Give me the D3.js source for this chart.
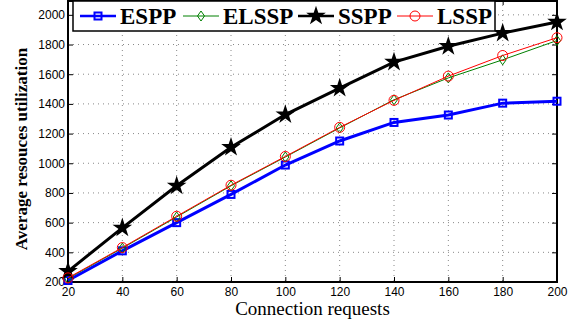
<!DOCTYPE html>
<meta charset="utf-8">
<head>
<style>
body { margin: 0; background: #fff; }
.tick text { font-family: "Liberation Sans", Arial, sans-serif; font-size: 12px; fill: #000; }
.grid line { stroke: #888; stroke-dasharray: 1,4; stroke-width: 1px; }
</style>
</head>
<body>
<script src="https://d3js.org/d3.v7.min.js"></script>
<div id="chart"></div>
<script>
  var requests = [20, 40, 60, 80, 100, 120, 140, 160, 180, 200];
  var espp  = [210, 410, 600, 790, 988, 1150, 1275, 1325, 1405, 1418];
  var elssp = [224, 428, 638, 848, 1042, 1238, 1428, 1575, 1697, 1827];
  var sspp  = [272, 565, 848, 1108, 1328, 1506, 1682, 1788, 1877, 1952];
  var lssp  = [228, 432, 643, 852, 1046, 1242, 1424, 1587, 1726, 1846];
  var xTicks = [20, 40, 60, 80, 100, 120, 140, 160, 180, 200];
  var yTicks = [200, 400, 600, 800, 1000, 1200, 1400, 1600, 1800, 2000];

  var width = 580, height = 322;
  var mLeft = 68, mRight = 557, mTop = 0, mBottom = 282;

  var x = d3.scaleLinear().domain([20, 200]).range([mLeft, mRight]);
  var y = d3.scaleLinear().domain([200, 2100]).range([mBottom, mTop]);

  const svg = d3.select('#chart').append('svg')
      .attr('width', width).attr('height', height);

  // grid
  svg.append('g').attr('class', 'grid')
    .selectAll('line').data(xTicks.slice(1, -1)).enter().append('line')
      .attr('x1', d => x(d)).attr('x2', d => x(d))
      .attr('y1', mTop).attr('y2', mBottom);
  svg.append('g').attr('class', 'grid')
    .selectAll('line').data(yTicks.slice(1)).enter().append('line')
      .attr('x1', mLeft).attr('x2', mRight)
      .attr('y1', d => y(d)).attr('y2', d => y(d));

  // axes
  svg.append('g').attr('transform', 'translate(0,' + mBottom + ')')
    .call(d3.axisBottom(x).tickValues(xTicks).tickSize(-5).tickPadding(5).tickFormat(d3.format('d')));
  svg.append('g').attr('transform', 'translate(' + mLeft + ',0)')
    .call(d3.axisLeft(y).tickValues(yTicks).tickSize(-5).tickPadding(3).tickFormat(d3.format('d')));
  svg.append('g').attr('transform', 'translate(0,' + mTop + ')')
    .call(d3.axisTop(x).tickValues(xTicks).tickSize(-5).tickFormat(''));
  svg.append('g').attr('transform', 'translate(' + mRight + ',0)')
    .call(d3.axisRight(y).tickValues(yTicks).tickSize(-5).tickFormat(''));
  svg.selectAll('.domain').remove();
  svg.selectAll('.tick line').attr('stroke', '#000');

  svg.append('rect')
    .attr('x', mLeft).attr('y', mTop + 1)
    .attr('width', mRight - mLeft).attr('height', mBottom - mTop - 1)
    .attr('fill', 'none').attr('stroke', '#000').attr('stroke-width', 2);

  // series
  var series = [
    { name: 'ESPP', values: espp, color: '#0000ff', width: 3, marker: 'square' },
    { name: 'ELSSP', values: elssp, color: '#008000', width: 1, marker: 'diamond' },
    { name: 'SSPP', values: sspp, color: '#000000', width: 3, marker: 'star' },
    { name: 'LSSP', values: lssp, color: '#ff0000', width: 1, marker: 'circle' }
  ];

  var line = d3.line().x((d, i) => x(requests[i])).y(d => y(d));

  function drawMarker(g, s, cx, cy) {
    if (s.marker === 'square') {
      g.append('rect').attr('x', cx - 3.5).attr('y', cy - 3.5).attr('width', 7).attr('height', 7)
        .attr('fill', 'none').attr('stroke', s.color).attr('stroke-width', 2);
    } else if (s.marker === 'diamond') {
      g.append('path').attr('d', 'M0,-5L3.5,0L0,5L-3.5,0Z').attr('transform', 'translate(' + cx + ',' + cy + ')')
        .attr('fill', 'none').attr('stroke', s.color).attr('stroke-width', 1);
    } else if (s.marker === 'star') {
      g.append('path').attr('d', d3.symbol(d3.symbolStar, 120)()).attr('transform', 'translate(' + cx + ',' + cy + ')')
        .attr('fill', s.color);
    } else {
      g.append('circle').attr('cx', cx).attr('cy', cy).attr('r', 5)
        .attr('fill', 'none').attr('stroke', s.color).attr('stroke-width', 1);
    }
  }

  series.forEach(function (s) {
    var g = svg.append('g');
    g.append('path').datum(s.values).attr('d', line)
      .attr('fill', 'none').attr('stroke', s.color).attr('stroke-width', s.width);
    s.values.forEach(function (v, i) { drawMarker(g, s, x(requests[i]), y(v)); });
  });

  // legend
  var legend = svg.append('g');
  legend.append('rect').attr('x', 73).attr('y', 1).attr('width', 422).attr('height', 30)
    .attr('fill', '#fff').attr('stroke', '#000').attr('stroke-width', 1.5);
  var legendX = [80, 183, 298, 397];
  series.forEach(function (s, i) {
    var lx = legendX[i], ly = 16;
    legend.append('line').attr('x1', lx).attr('x2', lx + 36).attr('y1', ly).attr('y2', ly)
      .attr('stroke', s.color).attr('stroke-width', s.width === 3 ? 2.5 : 1);
    drawMarker(legend, s, lx + 18, ly);
    legend.append('text').attr('x', lx + 40).attr('y', ly + 8)
      .attr('font-family', '"Liberation Serif", "Times New Roman", serif')
      .attr('font-weight', 'bold').attr('font-size', '23px')
      .text(s.name);
  });

  // axis labels
  svg.append('text').attr('x', (mLeft + mRight) / 2).attr('y', 315)
    .attr('text-anchor', 'middle')
    .attr('font-family', '"Liberation Serif", "Times New Roman", serif')
    .attr('font-size', '19px').text('Connection requests');
  svg.append('text').attr('transform', 'translate(27,' + ((mTop + mBottom) / 2 + 8) + ') rotate(-90)')
    .attr('text-anchor', 'middle')
    .attr('font-family', '"Liberation Serif", "Times New Roman", serif')
    .attr('font-weight', 'bold')
    .attr('font-size', '17px').text('Average resouces utilization');
</script>
</body>
